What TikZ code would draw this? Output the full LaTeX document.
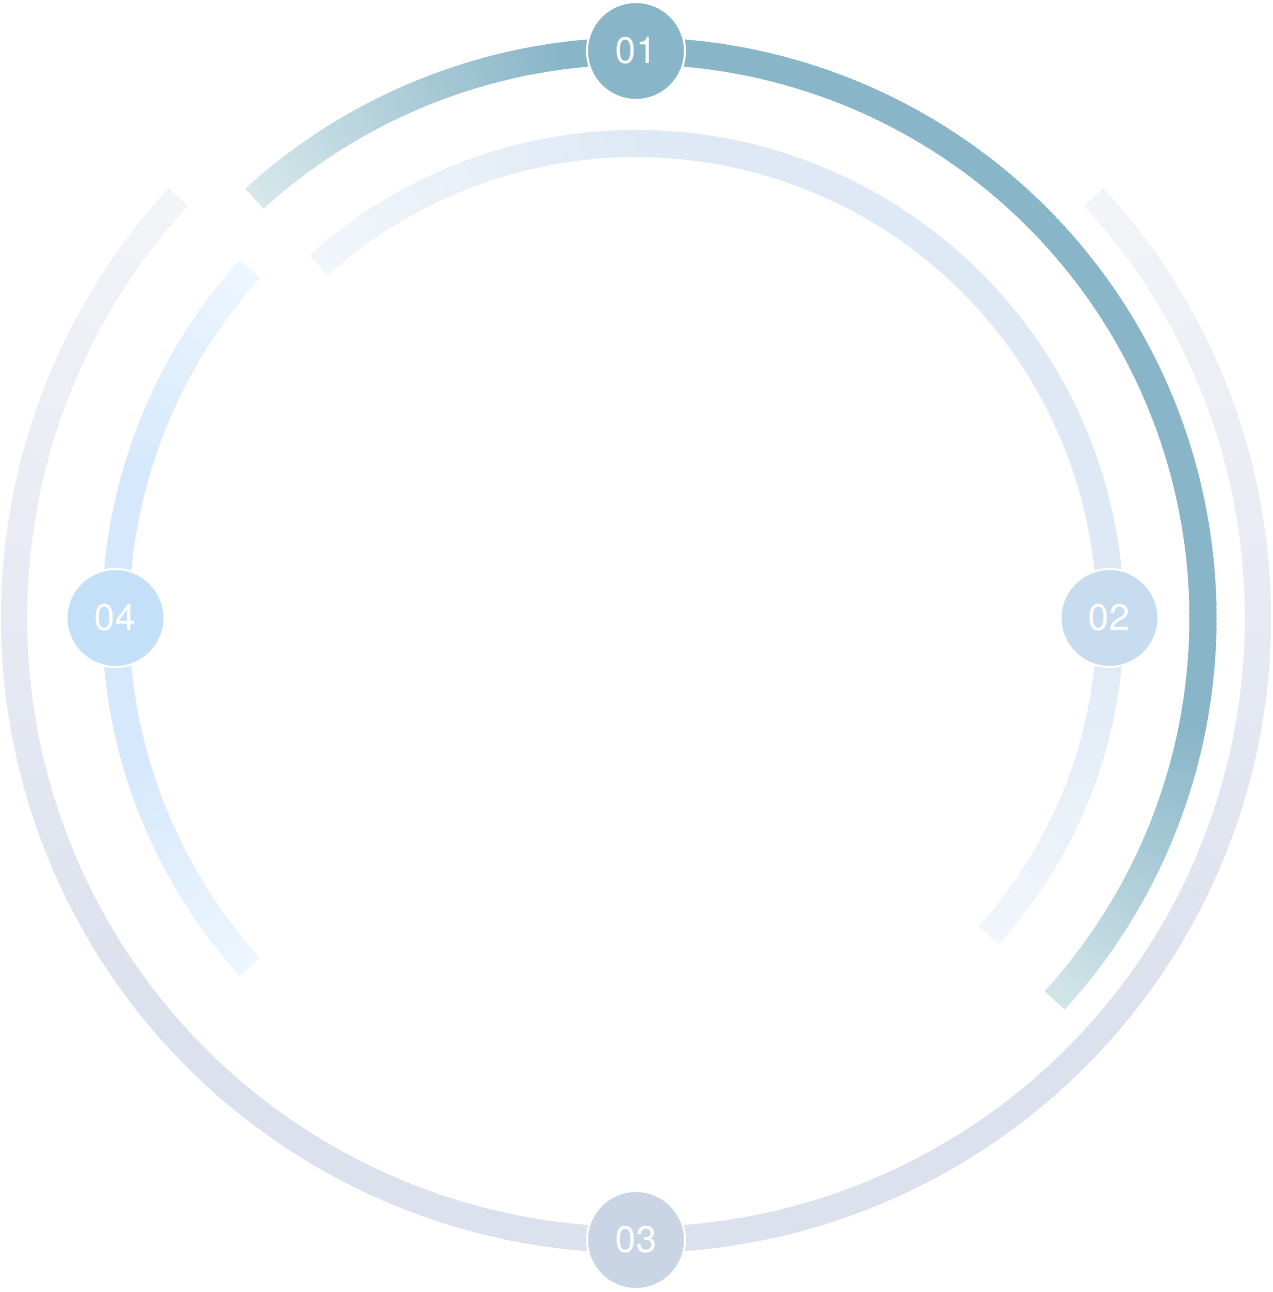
\documentclass[tikz,border=0pt]{standalone}
\usepackage{fontspec}
\setmainfont{TeX Gyre Heros}
\definecolor{arcMain}{HTML}{88B5C8}
\definecolor{arcStart}{HTML}{D7E8EB}
\definecolor{arcEnd}{HTML}{D2E5E9}
\definecolor{outEnd}{HTML}{F3F4F8}
\definecolor{outMid}{HTML}{DCE1EE}
\definecolor{irEnd}{HTML}{F1F6FB}
\definecolor{irMid}{HTML}{DEE9F5}
\definecolor{ilEnd}{HTML}{EEF6FE}
\definecolor{ilMid}{HTML}{D6E9FC}
\definecolor{cOne}{HTML}{88B5C8}
\definecolor{cTwo}{HTML}{C7DCEF}
\definecolor{cThree}{HTML}{C9D4E4}
\definecolor{cFour}{HTML}{C3E0F8}
% gradient arc: radius, width, start angle, end angle, segments, colour at start, middle colour, colour at end
\newcommand\gradarc[8]{%
  \pgfmathsetmacro\dA{(#4-#3)/#5}%
  \foreach \i in {1,...,#5}{%
    \pgfmathsetmacro\t{(\i-0.5)/#5}%
    \pgfmathsetmacro\sa{#3+\dA*(\i-1)}%
    \ifnum\i=#5\relax
      \def\ea{#4}%
    \else
      \pgfmathsetmacro\ea{#3+\dA*(\i+0.6)}%
    \fi
    \pgfmathsetmacro\p{\t<\fA ? 100*\t/\fA : (\t>\fB ? 100*(1-\t)/(1-\fB) : 100)}%
    \pgfmathtruncatemacro\side{\t>\fB ? 1 : 0}%
    \ifnum\side=1 \colorlet{segc}{#7!\p!#8}\else\colorlet{segc}{#7!\p!#6}\fi
    \draw[line width=#2, segc] (\sa:#1) arc[start angle=\sa, end angle=\ea, radius=#1];
  }}
\tikzset{
  numdot/.style={circle, minimum size=98pt, inner sep=0pt, draw=white, line width=2pt,
    text=white, font=\fontsize{37}{37}\selectfont},
}
\begin{document}
\begin{tikzpicture}
\useasboundingbox (-636pt,-674pt) rectangle (636pt,618pt);
% outer arc
\def\fA{0.3}\def\fB{0.7}
\gradarc{622pt}{26pt}{137.4}{402.6}{530}{outEnd}{outMid}{outEnd}
% inner left arc
\def\fA{0.3}\def\fB{0.7}
\gradarc{520.5pt}{27pt}{137.9}{222.1}{170}{ilEnd}{ilMid}{ilEnd}
% inner right arc
\def\fA{0.25}\def\fB{0.75}
\gradarc{474.5pt}{27pt}{132}{-42}{348}{irEnd}{irMid}{irEnd}
% main arc
\def\fA{0.2}\def\fB{0.82}
\gradarc{567pt}{27pt}{132.3}{-42.4}{350}{arcStart}{arcMain}{arcEnd}
% numbered circles
\node[numdot, fill=cOne] (n1) at (0pt,567pt) {01};
\node[numdot, fill=cTwo] (n2) at (473.5pt,0pt) {02};
\node[numdot, fill=cThree] (n3) at (0pt,-622pt) {03};
\node[numdot, fill=cFour] (n4) at (-520.5pt,0pt) {04};
\end{tikzpicture}
\end{document}
